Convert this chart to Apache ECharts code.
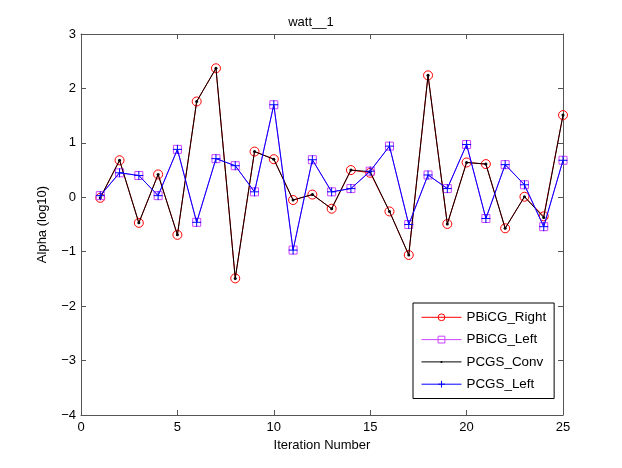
<!DOCTYPE html>
<html>
<head>
<meta charset="utf-8">
<script src="https://cdn.jsdelivr.net/npm/echarts@6/dist/echarts.min.js"></script>
<style>html,body{margin:0;padding:0;background:#fff;}#c{width:622px;height:468px;}</style>
</head>
<body>
<div id="c"></div>
<script>
var iterations = [1,2,3,4,5,6,7,8,9,10,11,12,13,14,15,16,17,18,19,20,21,22,23,24,25];
var pbicgRight = [-0.01,0.68,-0.47,0.42,-0.69,1.76,2.37,-1.49,0.84,0.70,-0.05,0.05,-0.21,0.50,0.45,-0.26,-1.06,2.24,-0.49,0.64,0.61,-0.57,0.01,-0.35,1.51];
var pbicgLeft = [0.03,0.45,0.40,0.03,0.88,-0.46,0.71,0.58,0.10,1.70,-0.97,0.69,0.10,0.16,0.48,0.94,-0.50,0.41,0.16,0.97,-0.39,0.60,0.23,-0.54,0.68];
var pcgsConv = [-0.01,0.68,-0.47,0.42,-0.69,1.76,2.37,-1.49,0.84,0.70,-0.05,0.05,-0.21,0.50,0.47,-0.26,-1.06,2.24,-0.49,0.64,0.61,-0.57,0.01,-0.37,1.51];
var pcgsLeft = [0.03,0.45,0.40,0.03,0.88,-0.46,0.71,0.58,0.10,1.70,-0.97,0.69,0.10,0.16,0.48,0.94,-0.50,0.41,0.16,0.97,-0.39,0.60,0.23,-0.54,0.68];
var seriesNames = ['PBiCG_Right','PBiCG_Left','PCGS_Conv','PCGS_Left'];
var xTicks = {min:0, max:25, interval:5};
var yTicks = {min:-4, max:3, interval:1};

function pairs(vals){ return iterations.map(function(x,i){ return [x, vals[i]]; }); }
var FONT = 'Liberation Sans';
var axisCol = '#555';
function fmt(v){ return String(v).replace('-', '\u2212'); }

// small dot inside a larger (invisible) bounding box so the legend dot stays small
var dotSymbol = 'path://M0,0M10,10M3.5,5A1.5,1.5,0,1,1,6.5,5A1.5,1.5,0,1,1,3.5,5Z';
var plusSymbol = 'path://M5,0L5,10M0,5L10,5';

var chart = echarts.init(document.getElementById('c'), null, {renderer:'canvas'});
var baseX = {type:'value', min:xTicks.min, max:xTicks.max, interval:xTicks.interval,
  axisLine:{show:true,onZero:false,lineStyle:{color:axisCol,width:1}},
  axisTick:{show:true,inside:true,length:5,lineStyle:{color:axisCol}},
  splitLine:{show:false}};
var baseY = {type:'value', min:yTicks.min, max:yTicks.max, interval:yTicks.interval,
  axisLine:{show:true,onZero:false,lineStyle:{color:axisCol,width:1}},
  axisTick:{show:true,inside:true,length:5,lineStyle:{color:axisCol}},
  splitLine:{show:false}};

chart.setOption({
  backgroundColor:'#fff',
  animation:false,
  textStyle:{fontFamily:FONT},
  title:{text:'watt__1', left:'center', top:11, textStyle:{fontFamily:FONT,fontSize:13,fontWeight:'normal',color:'#000'}},
  grid:{left:81, right:59, top:34, bottom:53},
  xAxis:[
    Object.assign({}, baseX, {position:'bottom', name:'Iteration Number', nameLocation:'middle', nameGap:19,
      nameTextStyle:{fontFamily:FONT,fontSize:13,color:'#000'},
      axisLabel:{show:true,margin:6,fontFamily:FONT,fontSize:13,color:'#000',formatter:fmt}}),
    Object.assign({}, baseX, {position:'top', axisLabel:{show:false}})
  ],
  yAxis:[
    Object.assign({}, baseY, {position:'left', name:'Alpha (log10)', nameLocation:'middle', nameGap:32,
      nameTextStyle:{fontFamily:FONT,fontSize:13,color:'#000'},
      axisLabel:{show:true,margin:5,fontFamily:FONT,fontSize:13,color:'#000',formatter:fmt}}),
    Object.assign({}, baseY, {position:'right', axisLabel:{show:false}})
  ],
  legend:{
    orient:'vertical', left:413, top:303, selectedMode:false,
    backgroundColor:'#fff', borderColor:'#000', borderWidth:1, borderRadius:0,
    padding:[7.8,8,7.8,8], itemWidth:40, itemHeight:8.5, itemGap:9.3,
    lineStyle:{width:1, color:'inherit'},
    textStyle:{fontFamily:FONT,fontSize:13.4,color:'#000'},
    data:[
      {name:seriesNames[0], itemStyle:{borderWidth:1}},
      {name:seriesNames[1], itemStyle:{borderWidth:1}},
      {name:seriesNames[2], itemStyle:{borderWidth:0}},
      {name:seriesNames[3], itemStyle:{borderWidth:1}}
    ]
  },
  series:[
    {name:seriesNames[0], type:'line', data:pairs(pbicgRight), z:2,
      symbol:'circle', symbolSize:9,
      lineStyle:{color:'#ff0000',width:1},
      itemStyle:{color:'rgba(0,0,0,0)',borderColor:'#ff0000',borderWidth:1}},
    {name:seriesNames[1], type:'line', data:pairs(pbicgLeft), z:3,
      symbol:'rect', symbolSize:8,
      lineStyle:{color:'#cc44ff',width:1},
      itemStyle:{color:'rgba(0,0,0,0)',borderColor:'#cc44ff',borderWidth:1}},
    {name:seriesNames[2], type:'line', data:pairs(pcgsConv), z:4,
      symbol:dotSymbol, symbolSize:10,
      lineStyle:{color:'#000',width:1},
      itemStyle:{color:'#000',borderWidth:0}},
    {name:seriesNames[3], type:'line', data:pairs(pcgsLeft), z:5,
      symbol:plusSymbol, symbolSize:9,
      lineStyle:{color:'#0000ff',width:1},
      itemStyle:{color:'rgba(0,0,0,0)',borderColor:'#0000ff',borderWidth:1}}
  ]
});
</script>
</body>
</html>
